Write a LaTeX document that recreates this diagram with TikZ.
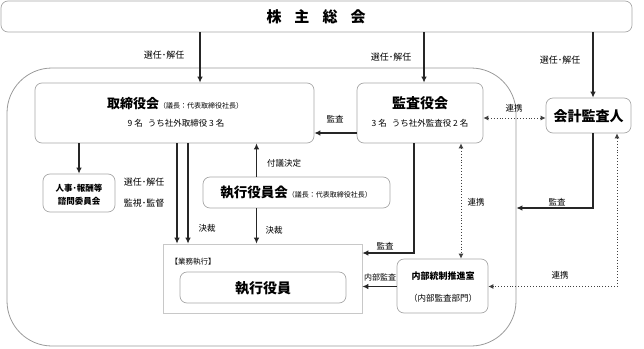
\documentclass[tikz,border=0pt]{standalone}
\usepackage{fontspec}
\setmainfont{Noto Sans CJK JP}
\usetikzlibrary{arrows.meta,calc}
\definecolor{boxgray}{HTML}{A8A8A8}
\definecolor{grpgray}{HTML}{9A9A9A}
\definecolor{lightgray}{HTML}{C8C8C8}
\begin{document}
\begin{tikzpicture}[x=1pt,y=-1pt,
  box/.style={draw=boxgray, line width=0.7pt, rounded corners=7pt, inner sep=0pt},
  arr/.style={draw=black!85, line width=1.1pt, -{Latex[length=6pt,width=5.5pt]}},
  darr/.style={draw=black!75, line width=0.9pt, dotted, {Latex[length=5pt,width=5pt]}-{Latex[length=5pt,width=5pt]}},
  lab/.style={inner sep=0pt, font=\fontsize{8.5}{10}\selectfont},
  txt/.style={inner sep=0pt},
]
\useasboundingbox (0,0) rectangle (644,348);
% group frame
\node[draw=grpgray, line width=0.8pt, rounded corners=45pt, minimum width=509, minimum height=278, inner sep=0pt] (grp) at (261.5,207) {};
% boxes
\node[box, minimum width=631, minimum height=31] (soukai) at (316.5,16.5) {};
\node[box, minimum width=279, minimum height=60] (tori) at (174.5,113) {};
\node[box, minimum width=126, minimum height=60] (kansa) at (420,113) {};
\node[box, minimum width=85, minimum height=35] (kaikei) at (588.5,115.5) {};
\node[box, minimum width=72, minimum height=38] (jinji) at (79,193) {};
\node[box, minimum width=187, minimum height=31] (shikkokai) at (296.5,192.5) {};
\node[draw=lightgray, line width=0.7pt, inner sep=0pt, minimum width=199, minimum height=69] (gyomu) at (262.5,278.5) {};
\node[box, minimum width=166, minimum height=31] (shikko) at (263,287.5) {};
\node[box, minimum width=91, minimum height=54] (naibu) at (442.5,286) {};
% texts in boxes
\node[txt] (t-soukai) at (316,17) {\fontsize{15}{18}\selectfont\bfseries 株\hspace{13pt}主\hspace{13pt}総\hspace{13pt}会};
\node[txt] (t-tori1) at (175,104) {{\fontsize{13}{15}\selectfont\bfseries 取締役会}{\fontsize{7}{8}\selectfont （議長：代表取締役社長）}};
\node[txt] (t-tori2) at (176,123) {\fontsize{8.5}{10}\selectfont 9 名\hspace{5pt}うち社外取締役 3 名};
\node[txt] (t-kansa1) at (420,103) {\fontsize{14}{16}\selectfont\bfseries 監査役会};
\node[txt] (t-kansa2) at (420,123) {\fontsize{8.5}{10}\selectfont 3 名\hspace{5pt}うち社外監査役 2 名};
\node[txt] (t-kaikei) at (588.5,116) {\fontsize{14}{16}\selectfont\bfseries 会計監査人};
\node[txt] (t-jinji1) at (79,188) {\fontsize{8.5}{9}\selectfont\bfseries 人事･報酬等};
\node[txt] (t-jinji2) at (79,201) {\fontsize{8.5}{9}\selectfont\bfseries 諮問委員会};
\node[txt] (t-shikkokai) at (296,193) {{\fontsize{13.5}{15}\selectfont\bfseries 執行役員会}{\fontsize{7}{8}\selectfont （議長：代表取締役社長）}};
\node[txt] (t-gyomu) at (193,262) {\fontsize{7.5}{8}\selectfont 【業務執行】};
\node[txt] (t-shikko) at (263,288) {\fontsize{14}{16}\selectfont\bfseries 執行役員};
\node[txt] (t-naibu1) at (443,276) {\fontsize{9}{10}\selectfont\bfseries 内部統制推進室};
\node[txt] (t-naibu2) at (443,298) {\fontsize{8.5}{10}\selectfont （内部監査部門）};
% helper coordinates
\coordinate (c78) at (79,0);
\coordinate (c177) at (177,0);
\coordinate (c188) at (188,0);
\coordinate (c200) at (200,0);
\coordinate (c256) at (256.5,0);
\coordinate (c414) at (414,0);
\coordinate (c424) at (424,0);
\coordinate (c461) at (461,0);
\coordinate (c593) at (593,0);
\coordinate (c617) at (617,0);
\coordinate (r118) at (0,118);
\coordinate (r133) at (0,133);
\coordinate (r208) at (0,208);
\coordinate (r253) at (0,253);
\coordinate (r286) at (0,286.5);
% connectors
\draw[arr] (soukai.south -| c200) -- (tori.north -| c200);
\draw[arr] (soukai.south -| c424) -- (kansa.north -| c424);
\draw[arr] (soukai.south -| c593) -- (kaikei.north -| c593);
\draw[darr] (kansa.east |- r118) -- (kaikei.west |- r118);
\draw[arr] (kansa.west |- r133) -- (tori.east |- r133);
\draw[arr] (tori.south -| c78) -- (jinji.north -| c78);
\draw[arr] (tori.south -| c177) -- (gyomu.north -| c177);
\draw[arr] (tori.south -| c188) -- (gyomu.north -| c188);
\draw[arr] (shikkokai.north -| c256) -- (tori.south -| c256);
\draw[arr] (shikkokai.south -| c256) -- (gyomu.north -| c256);
\draw[arr] (kansa.south -| c414) |- (gyomu.east |- r253);
\draw[darr] (kansa.south -| c461) -- (naibu.north -| c461);
\draw[arr] (kaikei.south -| c593) |- (grp.east |- r208);
\draw[darr] (kaikei.south -| c617) |- (naibu.east |- r286);
\draw[arr] (naibu.west |- r286) -- (gyomu.east |- r286);
% connector labels
\node[lab, font=\fontsize{9}{10}\selectfont] (l1) at (164,55) {選任･解任};
\node[lab, font=\fontsize{9}{10}\selectfont] (l2) at (391,57) {選任･解任};
\node[lab, font=\fontsize{9}{10}\selectfont] (l3) at (560,60) {選任･解任};
\node[lab] (l4) at (514,108) {連携};
\node[lab] (l5) at (335,119) {監査};
\node[lab, font=\fontsize{9}{10}\selectfont] (l6) at (144,182) {選任･解任};
\node[lab, font=\fontsize{9}{10}\selectfont] (l7) at (144,203) {監視･監督};
\node[lab] (l8) at (284,163) {付議決定};
\node[lab] (l9) at (207,228) {決裁};
\node[lab] (l10) at (274,230) {決裁};
\node[lab] (l11) at (385,246) {監査};
\node[lab] (l12) at (476,202) {連携};
\node[lab] (l13) at (557,202) {監査};
\node[lab, font=\fontsize{8}{9}\selectfont] (l14) at (380,277) {内部監査};
\node[lab] (l15) at (560,275) {連携};
\end{tikzpicture}
\end{document}
